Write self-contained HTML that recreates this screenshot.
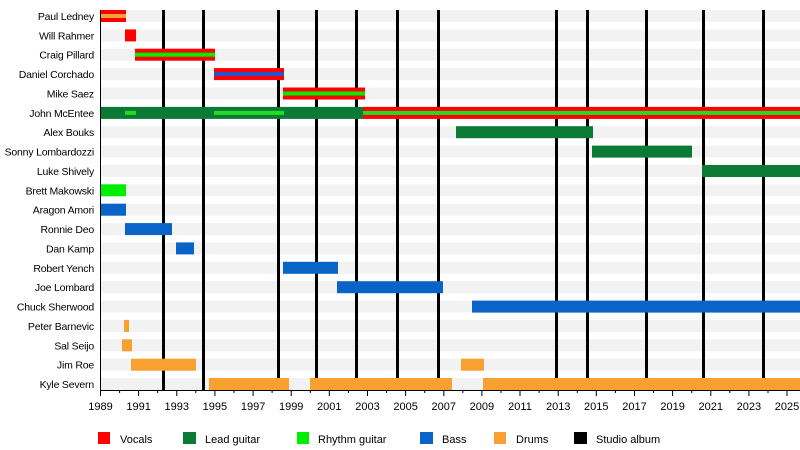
<!DOCTYPE html>
<html><head><meta charset="utf-8"><style>
html,body{margin:0;padding:0;background:#fff;}
svg{display:block;font-family:"Liberation Sans",sans-serif;font-size:11px;}
.names text{font-size:10.5px;letter-spacing:-0.2px;}
</style></head><body>
<svg width="800" height="450" viewBox="0 0 800 450">
<g fill="#f2f2f2">
<rect x="101" y="10" width="699" height="12"/><rect x="101" y="29.4" width="699" height="12"/><rect x="101" y="48.7" width="699" height="12"/><rect x="101" y="68.1" width="699" height="12"/><rect x="101" y="87.5" width="699" height="12"/><rect x="101" y="106.9" width="699" height="12"/><rect x="101" y="126.2" width="699" height="12"/><rect x="101" y="145.6" width="699" height="12"/><rect x="101" y="165" width="699" height="12"/><rect x="101" y="184.3" width="699" height="12"/><rect x="101" y="203.7" width="699" height="12"/><rect x="101" y="223.1" width="699" height="12"/><rect x="101" y="242.4" width="699" height="12"/><rect x="101" y="261.8" width="699" height="12"/><rect x="101" y="281.2" width="699" height="12"/><rect x="101" y="300.6" width="699" height="12"/><rect x="101" y="319.9" width="699" height="12"/><rect x="101" y="339.3" width="699" height="12"/><rect x="101" y="358.7" width="699" height="12"/><rect x="101" y="378" width="699" height="12"/>
</g>
<g fill="#000">
<rect x="162" y="10" width="3" height="380"/><rect x="202" y="10" width="3" height="380"/><rect x="277" y="10" width="3" height="380"/><rect x="315" y="10" width="3" height="380"/><rect x="355" y="10" width="3" height="380"/><rect x="396" y="10" width="3" height="380"/><rect x="437" y="10" width="3" height="380"/><rect x="555" y="10" width="3" height="380"/><rect x="586" y="10" width="3" height="380"/><rect x="645" y="10" width="3" height="380"/><rect x="702" y="10" width="3" height="380"/><rect x="762" y="10" width="3" height="380"/>
</g>
<rect x="101" y="10" width="25" height="12" fill="#ff0000"/><rect x="101" y="14" width="25" height="4" fill="#f8a030"/>
<rect x="125" y="29.4" width="11" height="12" fill="#ff0000"/>
<rect x="135" y="48.7" width="80" height="12" fill="#ff0000"/><rect x="135" y="52.7" width="80" height="4" fill="#00ee00"/>
<rect x="214" y="68.1" width="70" height="12" fill="#ff0000"/><rect x="214" y="72.1" width="70" height="4" fill="#2255cc"/>
<rect x="283" y="87.5" width="82" height="12" fill="#ff0000"/><rect x="283" y="91.5" width="82" height="4" fill="#00ee00"/>
<rect x="101" y="106.9" width="263" height="12" fill="#0a7a35"/>
<rect x="125" y="110.9" width="11" height="4" fill="#22dd22"/>
<rect x="214" y="110.9" width="70" height="4" fill="#22dd22"/>
<rect x="363" y="106.9" width="437" height="12" fill="#ff0000"/><rect x="363" y="110.9" width="437" height="4" fill="#22dd22"/>
<g fill="#0a7a35">
<rect x="456" y="126.2" width="137" height="12"/>
<rect x="592" y="145.6" width="100" height="12"/>
<rect x="702" y="165" width="98" height="12"/>
</g>
<rect x="101" y="184.3" width="25" height="12" fill="#00ee00"/>
<g fill="#0a64c8">
<rect x="101" y="203.7" width="25" height="12"/>
<rect x="125" y="223.1" width="47" height="12"/>
<rect x="176" y="242.4" width="18" height="12"/>
<rect x="283" y="261.8" width="55" height="12"/>
<rect x="337" y="281.2" width="106" height="12"/>
<rect x="472" y="300.6" width="328" height="12"/>
</g>
<g fill="#f8a030">
<rect x="124" y="319.9" width="5" height="12"/>
<rect x="122" y="339.3" width="10" height="12"/>
<rect x="131" y="358.7" width="65" height="12"/>
<rect x="461" y="358.7" width="23" height="12"/>
<rect x="209" y="378" width="80" height="12"/>
<rect x="310" y="378" width="142" height="12"/>
<rect x="483" y="378" width="317" height="12"/>
</g>
<rect x="100" y="10" width="1" height="381" fill="#000"/>
<rect x="100" y="390" width="700" height="1" fill="#000"/>
<g stroke="#000" stroke-width="1">
<path d="M100.5 390v6M119.6 390v3M138.6 390v6M157.7 390v3M176.8 390v6M195.8 390v3M214.9 390v6M234 390v3M253.1 390v6M272.1 390v3M291.2 390v6M310.3 390v3M329.3 390v6M348.4 390v3M367.5 390v6M386.6 390v3M405.6 390v6M424.7 390v3M443.8 390v6M462.8 390v3M481.9 390v6M501 390v3M520 390v6M539.1 390v3M558.2 390v6M577.3 390v3M596.3 390v6M615.4 390v3M634.5 390v6M653.5 390v3M672.6 390v6M691.7 390v3M710.8 390v6M729.8 390v3M748.9 390v6M768 390v3M787 390v6"/>
</g>
<g text-anchor="middle" fill="#000">
<text x="100.5" y="410">1989</text><text x="138.6" y="410">1991</text><text x="176.8" y="410">1993</text><text x="214.9" y="410">1995</text><text x="253.1" y="410">1997</text><text x="291.2" y="410">1999</text><text x="329.3" y="410">2001</text><text x="367.5" y="410">2003</text><text x="405.6" y="410">2005</text><text x="443.8" y="410">2007</text><text x="481.9" y="410">2009</text><text x="520" y="410">2011</text><text x="558.2" y="410">2013</text><text x="596.3" y="410">2015</text><text x="634.5" y="410">2017</text><text x="672.6" y="410">2019</text><text x="710.8" y="410">2021</text><text x="748.9" y="410">2023</text><text x="787" y="410">2025</text>
</g>
<g class="names" text-anchor="end" fill="#000">
<text x="94" y="20">Paul Ledney</text><text x="94" y="39.4">Will Rahmer</text><text x="94" y="58.7">Craig Pillard</text><text x="94" y="78.1">Daniel Corchado</text><text x="94" y="97.5">Mike Saez</text><text x="94" y="116.9">John McEntee</text><text x="94" y="136.2">Alex Bouks</text><text x="94" y="155.6">Sonny Lombardozzi</text><text x="94" y="175">Luke Shively</text><text x="94" y="194.3">Brett Makowski</text><text x="94" y="213.7">Aragon Amori</text><text x="94" y="233.1">Ronnie Deo</text><text x="94" y="252.4">Dan Kamp</text><text x="94" y="271.8">Robert Yench</text><text x="94" y="291.2">Joe Lombard</text><text x="94" y="310.6">Chuck Sherwood</text><text x="94" y="329.9">Peter Barnevic</text><text x="94" y="349.3">Sal Seijo</text><text x="94" y="368.7">Jim Roe</text><text x="94" y="388">Kyle Severn</text>
</g>
<rect x="98" y="432" width="12" height="12" fill="#ff0000"/><text x="120" y="443">Vocals</text>
<rect x="183" y="432" width="13" height="12" fill="#0a7a35"/><text x="205" y="443">Lead guitar</text>
<rect x="297" y="432" width="12" height="12" fill="#00ee00"/><text x="318" y="443">Rhythm guitar</text>
<rect x="420" y="432" width="13" height="12" fill="#0a64c8"/><text x="442" y="443">Bass</text>
<rect x="494" y="432" width="12" height="12" fill="#f8a030"/><text x="516" y="443">Drums</text>
<rect x="574" y="432" width="13" height="12" fill="#000"/><text x="596" y="443">Studio album</text>
</svg>
</body></html>
